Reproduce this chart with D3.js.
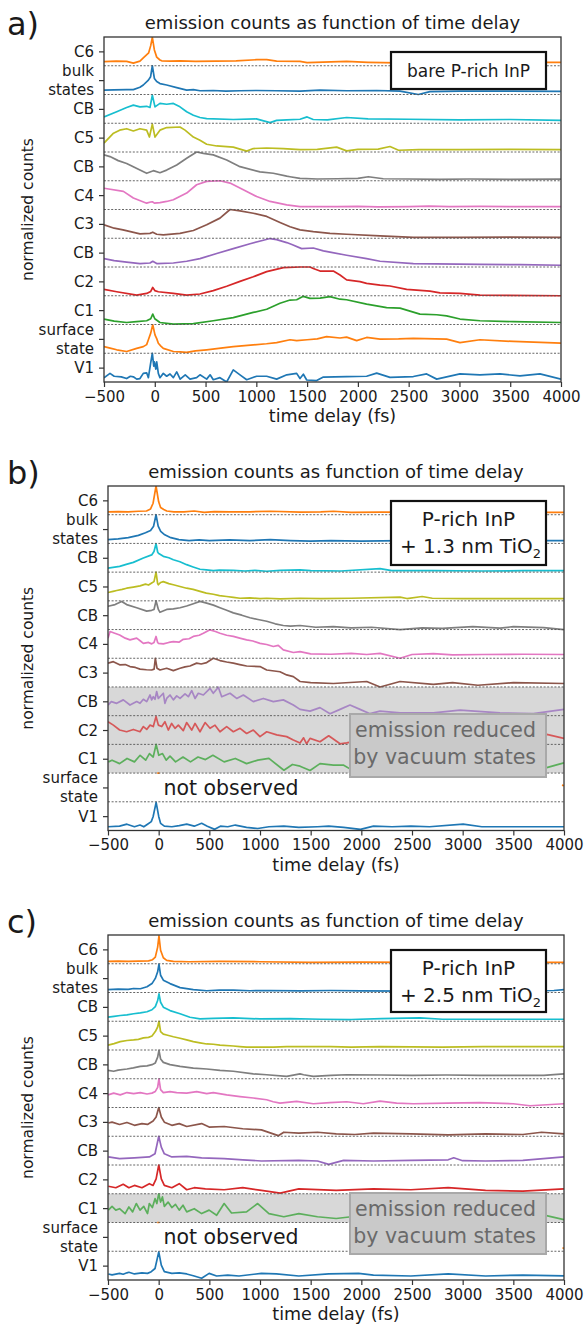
<!DOCTYPE html>
<html>
<head>
<meta charset="utf-8">
<script src="https://cdn.jsdelivr.net/npm/d3@7"></script>
<style>
  body { margin: 0; background: #fff; }
  svg text { font-family: "DejaVu Sans", sans-serif; fill: #1a1a1a; }
</style>
</head>
<body>
<svg id="chart" width="586" height="1326"></svg>
<script>
//------ données ------
const xTicks = [-500, 0, 500, 1000, 1500, 2000, 2500, 3000, 3500, 4000];
// du bas vers le haut
const stateLabels = ["V1", "surface state", "C1", "C2", "CB", "C3", "C4", "CB", "C5", "CB", "bulk states", "C6"];

// panneau a) bare P-rich InP   [temps fs, comptes normalisés]
const aV1 = [[-500,.15],[-441,.3],[-400,.2],[-330,.18],[-277,.12],[-240,.2],[-211,.18],[-178,.1],[-146,.12],[-113,.3],[-80,.32],[-63,.15],[-41,.65],[-24,1.0],[-10,.55],[-4,.7],[10,.45],[19,.7],[35,.3],[51,.15],[84,.3],[117,.2],[150,.28],[183,.15],[216,.35],[250,.1],[300,.25],[347,.1],[412,.15],[445,.25],[511,.1],[545,.25],[576,.08],[642,.15],[708,.0],[773,.42],[839,.25],[905,.08],[1003,.2],[1102,.2],[1200,.1],[1300,.25],[1397,.3],[1430,.12],[1463,.27],[1496,.07],[1594,.05],[1660,.17],[1889,.19],[2086,.2],[2185,.31],[2316,.16],[2546,.19],[2677,.28],[2776,.1],[3005,.28],[3202,.25],[3399,.28],[3596,.21],[3793,.28],[4000,.1]];
const aSurf = [[-500,.23],[-440,.18],[-375,.12],[-277,.06],[-178,.17],[-113,.23],[-80,.3],[-63,.47],[-40,.7],[-20,.99],[2,.64],[20,.5],[35,.35],[60,.25],[84,.17],[183,.06],[250,.05],[314,.03],[400,.08],[511,.12],[650,.18],[773,.23],[970,.29],[1100,.33],[1200,.37],[1332,.47],[1397,.44],[1500,.47],[1600,.5],[1692,.58],[1824,.53],[1889,.56],[1988,.44],[2086,.55],[2218,.49],[2400,.5],[2546,.52],[2874,.49],[3005,.37],[3202,.47],[3530,.41],[4000,.35]];
const aC1 = [[-500,.19],[-400,.12],[-277,.07],[-180,.1],[-80,.13],[-40,.2],[-20,.36],[0,.2],[51,.07],[183,.01],[380,.03],[576,.13],[773,.24],[970,.42],[1102,.53],[1233,.74],[1332,.85],[1397,.86],[1463,.98],[1528,.91],[1627,.92],[1725,.97],[1824,.88],[1889,.86],[2086,.71],[2283,.59],[2415,.57],[2611,.36],[2776,.34],[2874,.3],[3005,.19],[3202,.13],[3530,.1],[4000,.07]];
const aC2 = [[-500,.22],[-375,.14],[-178,.02],[-80,.08],[-40,.15],[-20,.29],[0,.18],[35,.14],[183,.08],[314,.02],[445,.06],[576,.18],[708,.33],[839,.5],[970,.66],[1102,.84],[1266,.98],[1430,1.0],[1528,1.0],[1561,.95],[1627,.86],[1758,.86],[1824,.72],[1889,.55],[2021,.49],[2086,.43],[2218,.37],[2316,.34],[2480,.22],[2710,.16],[2808,.1],[3005,.08],[3202,.02],[4000,.0]];
const aCBp = [[-500,.29],[-400,.22],[-277,.17],[-146,.12],[-47,.14],[-20,.2],[19,.12],[183,.14],[314,.2],[445,.29],[610,.47],[773,.64],[938,.81],[1069,.93],[1135,.99],[1200,.95],[1299,.85],[1350,.78],[1446,.64],[1561,.66],[1660,.56],[1725,.52],[1889,.41],[2086,.29],[2218,.2],[2546,.12],[3202,.09],[3600,.08],[4000,.06]];
const aC3 = [[-500,.47],[-400,.35],[-313,.29],[-146,.15],[-47,.17],[-20,.21],[19,.14],[84,.12],[248,.17],[380,.27],[511,.47],[642,.7],[741,1.0],[839,.95],[970,.87],[1102,.76],[1233,.55],[1332,.4],[1430,.29],[1561,.23],[1725,.17],[1889,.14],[2218,.08],[2546,.03],[3000,.03],[3500,.04],[4000,.03]];
const aC4 = [[-500,.74],[-309,.63],[-211,.4],[-80,.22],[-41,.26],[-24,.27],[-4,.22],[51,.24],[117,.28],[183,.34],[314,.57],[412,.86],[511,.98],[642,1.0],[741,.92],[872,.69],[1003,.45],[1135,.28],[1299,.16],[1430,.1],[1600,.1],[1800,.1],[2000,.11],[2200,.09],[2500,.1],[2700,.12],[2900,.1],[3200,.11],[3600,.1],[4000,.1]];
const aCBg = [[-500,.9],[-441,.84],[-360,.7],[-277,.6],[-146,.37],[-80,.26],[-14,.35],[51,.28],[117,.37],[216,.55],[314,.78],[412,1.0],[478,.95],[576,.9],[708,.72],[839,.49],[1036,.31],[1167,.26],[1299,.16],[1331,.14],[1430,.08],[1600,.06],[1800,.07],[2000,.08],[2103,.14],[2250,.07],[2500,.06],[2800,.05],[3100,.06],[3500,.05],[4000,.06]];
const aC5 = [[-500,.31],[-411,.64],[-346,.76],[-277,.81],[-211,.73],[-146,.81],[-80,.76],[-53,.52],[-24,.97],[2,.52],[51,.76],[117,.85],[248,.87],[298,.76],[380,.52],[445,.41],[511,.27],[610,.21],[773,.17],[905,.03],[970,.12],[1102,.14],[1266,.12],[1430,.08],[1600,.09],[1791,.17],[1889,.04],[2000,.09],[2200,.1],[2316,.19],[2400,.06],[2600,.08],[3000,.08],[3500,.09],[4000,.08]];
const aCBc = [[-500,.22],[-375,.4],[-277,.55],[-211,.63],[-146,.57],[-80,.59],[-47,.55],[-24,.98],[2,.57],[51,.69],[117,.66],[183,.69],[248,.57],[314,.4],[380,.28],[445,.2],[511,.16],[773,.13],[1000,.15],[1135,.02],[1200,.1],[1300,.12],[1430,.14],[1500,.22],[1560,.13],[1700,.12],[1889,.2],[2100,.15],[2500,.14],[3000,.12],[3500,.13],[4000,.1]];
const aBulk = [[-500,.15],[-400,.16],[-277,.17],[-211,.17],[-146,.25],[-113,.33],[-63,.5],[-41,.62],[-24,1.0],[-4,.56],[19,.45],[51,.38],[117,.33],[216,.24],[314,.15],[380,.17],[445,.13],[576,.14],[700,.12],[839,.13],[1003,.14],[1200,.13],[1430,.12],[1627,.15],[1889,.13],[2185,.14],[2415,.12],[2595,.0],[2710,.1],[3000,.12],[3500,.12],[4000,.11]];
const aC6 = [[-500,.14],[-440,.15],[-380,.16],[-277,.15],[-211,.09],[-146,.16],[-113,.27],[-60,.45],[-40,.7],[-24,.99],[-4,.55],[19,.3],[51,.2],[68,.17],[150,.16],[250,.17],[400,.15],[600,.16],[800,.17],[1003,.21],[1102,.21],[1200,.16],[1430,.15],[1500,.11],[1890,.15],[2100,.12],[2400,.1],[2700,.12],[3000,.12],[3500,.12],[4000,.12]];

// panneau b) + 1.3 nm TiO2
const bV1 = [[-500,.13],[-386,.15],[-313,.22],[-239,.13],[-184,.19],[-147,.13],[-110,.22],[-73,.31],[-55,.48],[-25,.98],[1,.48],[19,.25],[56,.15],[130,.13],[203,.17],[277,.22],[351,.15],[424,.25],[480,.15],[553,.04],[609,.15],[682,.13],[756,.19],[867,.11],[977,.07],[1088,.13],[1235,.15],[1383,.11],[1567,.13],[1678,.15],[1825,.11],[1991,.04],[2120,.15],[2304,.13],[2489,.15],[2673,.13],[3005,.22],[3189,.13],[3594,.13],[4000,.13]];
const bSurf = [[-14,1.0],[8,1.0],null,[3980,.58],[4000,.56]];
const bC1 = [[-497,.39],[-460,.45],[-386,.33],[-312,.51],[-239,.39],[-183,.62],[-128,.45],[-91,.68],[-54,.56],[-25,1.0],[1,.62],[38,.68],[74,.45],[112,.59],[167,.39],[240,.56],[314,.39],[388,.56],[462,.47],[535,.62],[646,.39],[756,.51],[867,.33],[978,.45],[1088,.51],[1236,.1],[1320,.3],[1395,.24],[1494,.09],[1592,.33],[1724,.28],[1822,.28],[1900,.12],[2300,.15],[2700,.2],[3100,.15],[3500,.2],[3830,.19],[4000,.36]];
const bC2 = [[-500,.79],[-447,.67],[-385,.5],[-316,.44],[-250,.52],[-184,.44],[-151,.62],[-118,.52],[-85,.67],[-53,.62],[-26,.97],[-3,.67],[30,.62],[62,.79],[95,.5],[128,.73],[161,.56],[194,.67],[243,.48],[276,.76],[326,.5],[359,.73],[408,.44],[458,.76],[507,.56],[556,.67],[605,.44],[671,.62],[737,.44],[803,.56],[868,.38],[934,.5],[1000,.27],[1066,.44],[1165,.33],[1263,.27],[1329,.15],[1395,.05],[1430,.23],[1460,.02],[1494,.21],[1592,.09],[1678,.3],[1790,.02],[1855,.05],[2000,.15],[2400,.2],[2800,.15],[3200,.2],[3600,.25],[3830,.35],[4000,.21]];
const bCBp = [[-500,.37],[-467,.49],[-414,.43],[-349,.55],[-283,.37],[-217,.49],[-184,.43],[-151,.57],[-118,.49],[-85,.72],[-69,.55],[-53,.66],[-36,.57],[-20,.84],[-3,.6],[13,.66],[46,.78],[62,.43],[79,.6],[112,.72],[145,.55],[178,.69],[211,.6],[260,.76],[293,.66],[326,.87],[359,.6],[391,.78],[441,.72],[507,.95],[539,.78],[589,.99],[622,.66],[704,.78],[770,.6],[836,.72],[934,.49],[1033,.6],[1132,.49],[1230,.55],[1329,.37],[1395,.22],[1494,.16],[1592,.28],[1691,.07],[1790,.22],[1888,.37],[1987,.22],[2086,.07],[2184,.16],[2382,.1],[2711,.1],[2974,.19],[3368,.1],[3697,.07],[4000,.22]];
const bC3 = [[-500,.83],[-447,.88],[-385,.77],[-330,.78],[-283,.71],[-230,.68],[-184,.62],[-120,.6],[-69,.59],[-45,.62],[-33,1.0],[-16,.65],[13,.59],[79,.65],[145,.57],[211,.65],[260,.7],[309,.73],[375,.83],[420,.8],[474,.85],[539,1.0],[605,.92],[671,.87],[737,.83],[800,.78],[868,.73],[1000,.71],[1066,.59],[1197,.53],[1263,.42],[1329,.36],[1395,.19],[1500,.15],[1724,.12],[2053,.19],[2185,.0],[2382,.19],[2711,.09],[2900,.15],[3150,.06],[3500,.15],[4000,.12]];
const bC4 = [[-500,.7],[-480,.93],[-440,.88],[-385,.81],[-330,.7],[-283,.64],[-217,.7],[-180,.6],[-151,.52],[-100,.55],[-69,.5],[-46,.55],[-26,.76],[-10,.55],[-3,.52],[46,.5],[100,.55],[145,.58],[200,.56],[243,.66],[300,.68],[342,.76],[400,.8],[441,.87],[507,.99],[560,.93],[605,.87],[671,.8],[737,.76],[800,.7],[868,.64],[930,.6],[1000,.52],[1066,.48],[1132,.41],[1180,.45],[1230,.29],[1329,.2],[1395,.23],[1500,.15],[1700,.14],[1900,.17],[2053,.13],[2185,.17],[2382,.0],[2500,.13],[2711,.16],[2900,.12],[3200,.13],[3600,.14],[4000,.13]];
const bCBg = [[-500,.81],[-430,.87],[-365,.98],[-316,.87],[-217,.76],[-118,.64],[-69,.67],[-46,.7],[-26,1.0],[-3,.7],[13,.6],[79,.7],[145,.72],[211,.76],[276,.82],[342,.9],[408,.98],[474,.92],[540,.85],[605,.76],[671,.67],[737,.58],[820,.5],[901,.41],[980,.35],[1066,.29],[1150,.2],[1230,.14],[1300,.12],[1395,.14],[1550,.08],[1724,.1],[1900,.06],[2100,.08],[2382,.0],[2600,.06],[2800,.04],[3100,.1],[3368,.05],[3500,.1],[3800,.07],[4000,.0]];
const bC5 = [[-500,.29],[-450,.33],[-414,.36],[-360,.4],[-316,.44],[-250,.48],[-184,.52],[-130,.58],[-100,.55],[-69,.62],[-46,.67],[-26,1.0],[-10,.6],[-3,.56],[20,.64],[46,.67],[100,.6],[145,.56],[210,.5],[276,.44],[340,.4],[408,.33],[470,.27],[539,.23],[600,.18],[671,.15],[737,.12],[803,.09],[900,.1],[1000,.08],[1066,.09],[1200,.07],[1395,.09],[1600,.08],[1900,.09],[2382,.13],[2450,.08],[2600,.15],[2700,.09],[3000,.08],[3500,.08],[4000,.08]];
const bCBc = [[-500,.14],[-385,.2],[-320,.27],[-250,.34],[-151,.49],[-69,.6],[-46,.72],[-26,.99],[-10,.7],[-3,.66],[46,.55],[100,.5],[145,.43],[210,.36],[276,.26],[340,.18],[408,.1],[470,.08],[539,.05],[600,.07],[737,.06],[850,.04],[950,.06],[1066,.03],[1200,.06],[1395,.08],[1500,.05],[1800,.04],[2185,.12],[2300,.05],[2700,.05],[3200,.04],[3600,.05],[4000,.05]];
const bBulk = [[-500,.13],[-400,.16],[-300,.2],[-200,.28],[-130,.37],[-80,.45],[-50,.6],[-26,1.0],[-5,.6],[20,.42],[60,.3],[120,.2],[200,.13],[300,.1],[400,.12],[500,.1],[700,.12],[900,.1],[1100,.13],[1300,.1],[1500,.08],[1700,.1],[2000,.08],[2400,.1],[2800,.1],[3200,.09],[3600,.1],[4000,.1]];
const bC6 = [[-500,.1],[-400,.11],[-300,.1],[-200,.12],[-120,.13],[-80,.2],[-55,.4],[-26,1.0],[0,.45],[19,.25],[50,.18],[80,.13],[150,.1],[250,.1],[350,.13],[450,.08],[550,.11],[700,.1],[900,.1],[1100,.12],[1400,.09],[1600,.1],[1724,.12],[1900,.08],[2200,.09],[2700,.08],[3200,.08],[3600,.08],[4000,.08]];

// panneau c) + 2.5 nm TiO2
const cV1 = [[-497,.21],[-460,.18],[-386,.23],[-350,.2],[-313,.25],[-294,.27],[-239,.21],[-165,.25],[-110,.23],[-73,.29],[-36,.4],[1,.98],[26,.52],[56,.29],[130,.23],[203,.25],[277,.21],[351,.14],[424,.06],[498,.23],[572,.14],[682,.17],[793,.14],[1014,.23],[1162,.21],[1383,.14],[1678,.21],[1973,.23],[2120,.17],[2489,.14],[2857,.21],[3226,.14],[3594,.17],[4000,.14]];
const cSurf = [[-14,1.0],[8,1.0],null,[3985,.12],[4000,.1]];
const cC1 = [[-497,.43],[-460,.56],[-423,.43],[-386,.48],[-331,.31],[-294,.54],[-257,.37],[-221,.66],[-184,.43],[-147,.56],[-110,.31],[-92,.66],[-62,.52],[-36,.83],[-18,.66],[1,1.0],[19,.71],[37,.89],[56,.56],[93,.71],[130,.52],[166,.63],[203,.43],[240,.6],[277,.37],[351,.48],[424,.31],[498,.43],[572,.25],[646,.66],[719,.33],[867,.37],[977,.66],[1088,.31],[1235,.2],[1383,.31],[1567,.2],[1752,.14],[1900,.2],[2300,.18],[2700,.15],[3100,.2],[3500,.18],[3816,.25],[4000,.1]];
const cC2 = [[-497,.26],[-423,.21],[-350,.33],[-294,.21],[-239,.29],[-165,.21],[-92,.35],[-55,.29],[-25,.52],[1,1.0],[26,.52],[56,.29],[130,.21],[203,.35],[277,.14],[351,.21],[461,.17],[646,.14],[830,.21],[1014,.12],[1199,.02],[1383,.17],[1752,.12],[2120,.17],[2489,.14],[2857,.21],[3226,.12],[3594,.09],[4000,.17]];
const cCBp = [[-497,.28],[-386,.22],[-239,.25],[-92,.28],[-36,.39],[1,1.0],[26,.62],[56,.39],[130,.28],[277,.3],[424,.25],[646,.22],[830,.18],[1014,.14],[1383,.16],[1567,.14],[1678,.02],[1825,.16],[2120,.14],[2489,.16],[2857,.18],[2912,.25],[3000,.15],[3226,.14],[3594,.16],[4000,.28]];
const cC3 = [[-497,.46],[-460,.49],[-386,.41],[-313,.48],[-239,.38],[-165,.44],[-110,.41],[-55,.53],[-25,.67],[1,1.0],[26,.67],[56,.49],[130,.38],[203,.44],[277,.34],[424,.44],[498,.32],[646,.34],[830,.26],[1014,.22],[1180,.02],[1235,.14],[1383,.11],[1567,.14],[1752,.08],[1936,.06],[2120,.11],[2489,.08],[2857,.05],[3226,.08],[3594,.06],[3779,.14],[4000,.08]];
const cC4 = [[-500,.44],[-444,.5],[-379,.44],[-313,.52],[-247,.48],[-181,.52],[-115,.47],[-66,.5],[-33,.56],[-10,.7],[3,1.0],[19,.62],[46,.52],[112,.55],[178,.52],[276,.5],[375,.55],[474,.48],[539,.52],[671,.44],[803,.38],[934,.33],[1066,.27],[1130,.2],[1197,.15],[1361,.21],[1526,.13],[1690,.17],[1855,.2],[2019,.13],[2184,.22],[2348,.15],[2513,.13],[2842,.15],[3170,.17],[3499,.13],[3664,.06],[4000,.13]];
const cCBg = [[-500,.29],[-444,.26],[-400,.3],[-313,.34],[-250,.38],[-181,.43],[-115,.45],[-66,.49],[-33,.55],[-10,.75],[3,.99],[19,.69],[46,.57],[112,.49],[211,.43],[342,.37],[474,.34],[605,.29],[737,.26],[934,.17],[1066,.14],[1263,.08],[1395,.17],[1430,.14],[1526,.08],[1700,.12],[1855,.14],[2200,.13],[2500,.12],[2842,.13],[3170,.12],[3500,.12],[3800,.12],[4000,.17]];
const cC5 = [[-500,.17],[-440,.22],[-379,.29],[-313,.33],[-247,.35],[-200,.37],[-150,.42],[-100,.44],[-66,.49],[-33,.64],[-10,.8],[3,1.0],[19,.64],[46,.55],[79,.52],[145,.46],[211,.41],[276,.35],[342,.29],[408,.25],[474,.21],[540,.2],[605,.17],[737,.14],[800,.12],[868,.1],[1000,.1],[1132,.1],[1263,.12],[1395,.12],[1700,.12],[1900,.1],[2184,.12],[2800,.1],[3200,.12],[3600,.12],[4000,.12]];
const cCBc = [[-500,.14],[-440,.17],[-379,.2],[-313,.22],[-247,.26],[-181,.29],[-115,.33],[-66,.4],[-33,.51],[-10,.72],[3,.95],[19,.66],[46,.49],[112,.37],[211,.26],[309,.14],[408,.08],[540,.1],[737,.12],[1000,.08],[1300,.09],[1600,.07],[1900,.06],[2200,.09],[2580,.12],[2800,.07],[3200,.07],[3600,.07],[4000,.07]];
const cBulk = [[-500,.1],[-400,.12],[-300,.11],[-247,.14],[-180,.13],[-115,.2],[-66,.31],[-33,.49],[-10,.72],[3,.99],[19,.6],[46,.43],[112,.31],[211,.17],[342,.1],[474,.06],[600,.08],[737,.08],[900,.06],[1100,.07],[1400,.06],[1700,.07],[2000,.06],[2500,.05],[3000,.06],[3500,.06],[3900,.07],[4000,.1]];
const cC6 = [[-500,.08],[-400,.09],[-300,.08],[-200,.09],[-100,.1],[-60,.14],[-33,.23],[-10,.58],[3,.97],[19,.47],[46,.21],[79,.12],[145,.08],[300,.07],[600,.08],[1000,.07],[1500,.05],[2000,.06],[2500,.05],[3000,.05],[3500,.05],[4000,.05]];

//------ style ------
const stateColors = ["#1f77b4","#ff7f0e","#2ca02c","#d62728","#9467bd","#8c564b","#e377c2","#7f7f7f","#bcbd22","#17becf","#1f77b4","#ff7f0e"];

const panels = [
  { name: "a", tag: "a)", left: 104, right: 561, top: 37, bottom: 382,
    traces: [aV1,aSurf,aC1,aC2,aCBp,aC3,aC4,aCBg,aC5,aCBc,aBulk,aC6],
    legend: ["bare P-rich InP"], legendH: 37, shade: null },
  { name: "b", tag: "b)", left: 108, right: 564, top: 486, bottom: 830.5,
    traces: [bV1,bSurf,bC1,bC2,bCBp,bC3,bC4,bCBg,bC5,bCBc,bBulk,bC6],
    legend: ["P-rich InP", "+ 1.3 nm TiO"], legendH: 64, shade: [2,5], boxTop: 228, boxH: 63 },
  { name: "c", tag: "c)", left: 108, right: 564, top: 935, bottom: 1280,
    traces: [cV1,cSurf,cC1,cC2,cCBp,cC3,cC4,cCBg,cC5,cCBc,cBulk,cC6],
    legend: ["P-rich InP", "+ 2.5 nm TiO"], legendH: 62, shade: [2,3], boxTop: 258, boxH: 61 }
];

const svg = d3.select("#chart");
const calibri = "Lato, 'Open Sans', sans-serif";

function minusFmt(d) { return d < 0 ? "\u2212" + Math.abs(d) : String(d); }

function drawPanel(p) {
  const x = d3.scaleLinear().domain([-500, 4000]).range([p.left, p.right]);
  const y = d3.scaleLinear().domain([0, 12]).range([p.bottom, p.top]);
  const g = svg.append("g");

  svg.append("clipPath").attr("id", "clip-" + p.name)
    .append("rect").attr("x", p.left).attr("y", p.top)
    .attr("width", p.right - p.left).attr("height", p.bottom - p.top);

  // zone grisée
  if (p.shade) {
    g.append("rect").attr("x", p.left).attr("width", p.right - p.left)
      .attr("y", y(p.shade[1])).attr("height", y(p.shade[0]) - y(p.shade[1]))
      .attr("fill", "#d8d8d8");
  }

  const plot = g.append("g").attr("clip-path", "url(#clip-" + p.name + ")");
  p.traces.forEach((tr, i) => {
    const line = d3.line().defined(d => d != null)
      .x(d => x(d[0])).y(d => y(i + d[1]));
    const muted = p.shade && i >= p.shade[0] && i < p.shade[1];
    plot.append("path").attr("d", line(tr))
      .attr("fill", "none").attr("stroke", stateColors[i])
      .attr("stroke-width", 1.7).attr("stroke-linejoin", "round")
      .attr("stroke-opacity", muted ? 0.72 : 1);
  });

  // lignes de base pointillées
  plot.selectAll("line.base").data(d3.range(1, 12)).enter().append("line")
    .attr("x1", p.left).attr("x2", p.right)
    .attr("y1", d => y(d)).attr("y2", d => y(d))
    .attr("stroke", "#555").attr("stroke-width", 0.9).attr("stroke-dasharray", "2,1.6");

  // cadre
  g.append("rect").attr("x", p.left).attr("y", p.top)
    .attr("width", p.right - p.left).attr("height", p.bottom - p.top)
    .attr("fill", "none").attr("stroke", "#333").attr("stroke-width", 1.3);

  // axe x
  const xa = g.append("g").attr("transform", `translate(0,${p.bottom})`)
    .call(d3.axisBottom(x).tickValues(xTicks).tickSize(5).tickPadding(4).tickFormat(minusFmt));
  xa.select(".domain").remove();
  xa.selectAll("line").attr("stroke", "#333").attr("stroke-width", 1.2);
  xa.selectAll("text").attr("font-size", 15).attr("font-family", "DejaVu Sans").attr("fill", "#1a1a1a");

  // axe y
  const ya = g.append("g").attr("transform", `translate(${p.left},0)`)
    .call(d3.axisLeft(y).tickValues(d3.range(12).map(i => i + 0.5)).tickSize(5).tickFormat(""));
  ya.select(".domain").remove();
  ya.selectAll("line").attr("stroke", "#333").attr("stroke-width", 1.2);
  stateLabels.forEach((lab, i) => {
    const t = g.append("text").attr("text-anchor", "end").attr("font-size", 15);
    const parts = lab.split(" ");
    if (parts.length === 1) {
      t.attr("x", p.left - 10).attr("y", y(i + 0.5) + 5.5).text(lab);
    } else {
      parts.forEach((w, k) => {
        t.append("tspan").attr("x", p.left - 10)
          .attr("y", y(i + 0.5) + 5.5 + (k === 0 ? -9.5 : 9.5)).text(w);
      });
    }
  });

  // titres
  const cx = (p.left + p.right) / 2;
  g.append("text").attr("x", cx).attr("y", p.top - 8).attr("text-anchor", "middle")
    .attr("font-size", 18).text("emission counts as function of time delay");
  g.append("text").attr("x", cx).attr("y", p.bottom + 40).attr("text-anchor", "middle")
    .attr("font-size", 17.5).text("time delay (fs)");
  g.append("text").attr("transform", `translate(33,${(p.top + p.bottom) / 2}) rotate(-90)`)
    .attr("text-anchor", "middle").attr("font-size", 15.5).text("normalized counts");
  g.append("text").attr("x", 7).attr("y", p.top - 2).attr("font-size", 32).text(p.tag);

  // légende
  const lx0 = 391, lx1 = 546, ly0 = p.top + 15;
  g.append("rect").attr("x", lx0).attr("y", ly0).attr("width", lx1 - lx0).attr("height", p.legendH)
    .attr("fill", "#fff").attr("stroke", "#111").attr("stroke-width", 2.2);
  if (p.legend.length === 1) {
    g.append("text").attr("x", (lx0 + lx1) / 2).attr("y", ly0 + p.legendH / 2 + 6)
      .attr("text-anchor", "middle").attr("font-size", 17).text(p.legend[0]);
  } else {
    const lcx = (lx0 + lx1) / 2;
    g.append("text").attr("x", lcx).attr("y", ly0 + 25).attr("text-anchor", "middle")
      .attr("font-family", calibri).attr("font-size", 20).text(p.legend[0]);
    const t2 = g.append("text").attr("x", lcx + 2).attr("y", ly0 + 52).attr("text-anchor", "middle")
      .attr("font-family", calibri).attr("font-size", 20).text(p.legend[1]);
    t2.append("tspan").attr("dy", 5).attr("font-size", 13).text("2");
  }

  if (p.shade) {
    // boîte "emission reduced"
    const by = p.top + p.boxTop;
    g.append("rect").attr("x", 350).attr("y", by).attr("width", 196).attr("height", p.boxH)
      .attr("fill", "#c9c9c9").attr("stroke", "#a9a9a9").attr("stroke-width", 2);
    g.append("text").attr("x", 536).attr("y", by + 23).attr("text-anchor", "end")
      .attr("font-family", calibri).attr("font-size", 20.5).style("fill", "#6a6a6a")
      .text("emission reduced");
    g.append("text").attr("x", 536).attr("y", by + 50).attr("text-anchor", "end")
      .attr("font-family", calibri).attr("font-size", 20.5).style("fill", "#6a6a6a")
      .text("by vacuum states");
    g.append("text").attr("x", p.left + 123).attr("y", p.top + 309).attr("text-anchor", "middle")
      .attr("font-family", calibri).attr("font-size", 20.5).text("not observed");
  }
}

panels.forEach(drawPanel);
</script>
</body>
</html>
